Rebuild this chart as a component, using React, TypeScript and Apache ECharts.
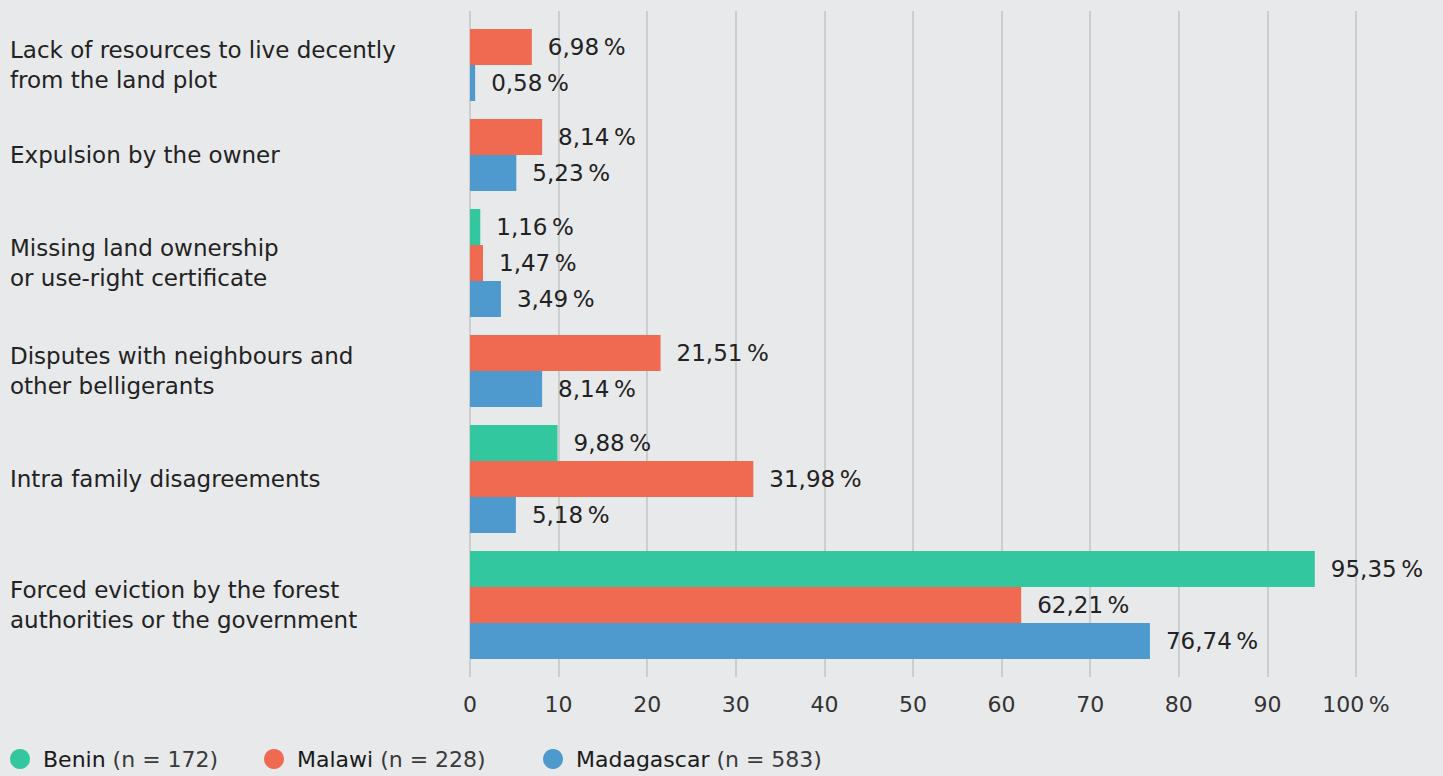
import React, { useEffect, useRef } from "react";
import * as echarts from "echarts";

const categories = [
  "Lack of resources to live decently\nfrom the land plot",
  "Expulsion by the owner",
  "Missing land ownership\nor use-right certificate",
  "Disputes with neighbours and\nother belligerants",
  "Intra family disagreements",
  "Forced eviction by the forest\nauthorities or the government",
];

const countries = ["Benin", "Malawi", "Madagascar"];
const sampleSizes = [172, 228, 583];
const colors = ["#33c79f", "#ef6a50", "#4e9acf"];

const benin: (number | null)[] = [null, null, 1.16, null, 9.88, 95.35];
const malawi: (number | null)[] = [6.98, 8.14, 1.47, 21.51, 31.98, 62.21];
const madagascar: (number | null)[] = [0.58, 5.23, 3.49, 8.14, 5.18, 76.74];

const xTicks = [0, 10, 20, 30, 40, 50, 60, 70, 80, 90, 100];

const seriesValues = [benin, malawi, madagascar];

const FONT = "'DejaVu Sans', sans-serif";
const legendLefts = [10, 264, 543];

function fmt(v: number) {
  return v.toFixed(2).replace(".", ",") + "\u2009%";
}

export default function App() {
  const ref = useRef<HTMLDivElement>(null);
  useEffect(() => {
    if (!ref.current) return;
    const chart = echarts.init(ref.current, null, { renderer: "svg" });

    const barData: { series: number; value: number; slot: number }[] = [];
    const centers: Record<number, string> = {};
    let slot = 0;
    categories.forEach((cat, ci) => {
      const start = slot;
      seriesValues.forEach((arr, si) => {
        const v = arr[ci];
        if (v !== null && v !== undefined) {
          barData.push({ series: si, value: v, slot });
          slot += 2;
        }
      });
      centers[(start + slot) / 2] = cat;
      slot += 1;
    });
    const totalSlots = slot - 1;

    const series = countries.map((name, si) => ({
      type: "custom",
      name,
      itemStyle: { color: colors[si] },
      encode: { x: 0, y: 1 },
      data: barData.filter((d) => d.series === si).map((d) => [d.value, d.slot]),
      renderItem: (params: any, api: any) => {
        const v = api.value(0);
        const s = api.value(1);
        const p0 = api.coord([0, s]);
        const p1 = api.coord([v, s + 2]);
        const top = Math.min(p0[1], p1[1]);
        const h = Math.abs(p1[1] - p0[1]);
        return {
          type: "group",
          children: [
            {
              type: "rect",
              shape: { x: p0[0], y: top, width: p1[0] - p0[0], height: h },
              style: { fill: colors[si] },
            },
            {
              type: "text",
              x: p1[0] + 16,
              y: top + h / 2,
              style: {
                text: fmt(v),
                fill: "#222",
                font: `23px ${FONT}`,
                verticalAlign: "middle",
                align: "left",
              },
            },
          ],
        };
      },
    }));

    const legends = countries.map((name, i) => ({
      left: legendLefts[i],
      top: 748,
      padding: 0,
      icon: "circle",
      itemWidth: 20,
      itemHeight: 20,
      data: [name],
      formatter: (n: string) => `{b|${n} }{n|(n = ${sampleSizes[i]})}`,
      textStyle: {
        rich: {
          b: {
            fontFamily: FONT,
            fontSize: 22,
            lineHeight: 26,
            color: "#1a1a1a",
            padding: [0, 0, 0, 8],
          },
          n: { fontFamily: FONT, fontSize: 22, lineHeight: 26, color: "#3a3a3a" },
        },
      },
    }));

    chart.setOption({
      animation: false,
      backgroundColor: "#e8e9eb",
      grid: { left: 470, right: 87, top: 11, bottom: 99, containLabel: false },
      xAxis: {
        type: "value",
        min: xTicks[0],
        max: xTicks[xTicks.length - 1],
        interval: 10,
        axisLine: { show: false },
        axisTick: { show: false },
        splitLine: { show: true, lineStyle: { color: "#c2c3c5", width: 1.5 } },
        axisLabel: {
          margin: 16,
          color: "#333",
          fontFamily: FONT,
          fontSize: 22,
          formatter: (v: number) => (v === 100 ? "100\u2009%" : String(v)),
        },
      },
      yAxis: {
        type: "value",
        inverse: true,
        min: -1,
        max: totalSlots + 1,
        interval: 0.5,
        axisLine: { show: false },
        axisTick: { show: false },
        splitLine: { show: false },
        axisLabel: {
          showMinLabel: true,
          showMaxLabel: true,
          margin: 460,
          align: "left",
          color: "#222",
          fontFamily: FONT,
          fontSize: 23,
          lineHeight: 30,
          formatter: (v: number) => centers[v] || "",
        },
      },
      legend: legends,
      series,
    });
    return () => chart.dispose();
  }, []);
  return (
    <div
      ref={ref}
      style={{ position: "fixed", left: 0, top: 0, width: 1443, height: 776 }}
    />
  );
}
